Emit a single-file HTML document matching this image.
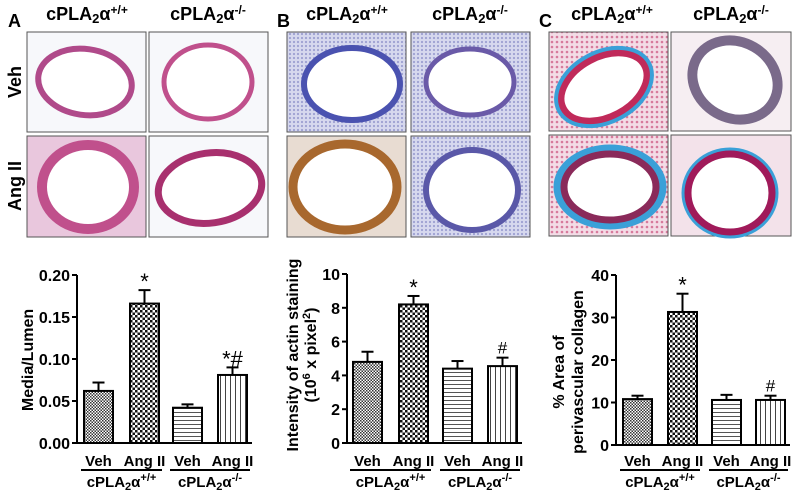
<!DOCTYPE html>
<html><head><meta charset="utf-8"><style>
body{margin:0;background:#fff;}
svg{display:block;font-family:"Liberation Sans",Arial,sans-serif;font-weight:bold;}
</style></head><body>
<svg id="fig" width="800" height="501" viewBox="0 0 800 501">
<defs>
<pattern id="pDense" width="3" height="3" patternUnits="userSpaceOnUse"><rect width="3" height="3" fill="#fff"/><rect width="1.5" height="1.5" fill="#333"/><rect x="1.5" y="1.5" width="1.5" height="1.5" fill="#333"/></pattern>
<pattern id="pCheck" width="5" height="5" patternUnits="userSpaceOnUse"><rect width="5" height="5" fill="#fff"/><rect width="2.5" height="2.5" fill="#111"/><rect x="2.5" y="2.5" width="2.5" height="2.5" fill="#111"/></pattern>
<pattern id="pHoriz" width="4" height="4" patternUnits="userSpaceOnUse"><rect width="4" height="4" fill="#fff"/><rect y="0" width="4" height="1" fill="#555"/></pattern>
<pattern id="pVert" width="5" height="4" patternUnits="userSpaceOnUse"><rect width="5" height="4" fill="#fff"/><rect x="0" width="1" height="4" fill="#444"/></pattern>
<pattern id="pBlue" width="4" height="4" patternUnits="userSpaceOnUse"><rect width="4" height="4" fill="#d6d8ee"/><circle cx="2" cy="2" r="1.1" fill="#9da0d2"/></pattern>
<pattern id="pPink" width="5" height="5" patternUnits="userSpaceOnUse"><rect width="5" height="5" fill="#f3dce6"/><circle cx="2" cy="2" r="1.3" fill="#d77a9c"/></pattern>
</defs>

<text x="8" y="27" font-size="18">A</text>
<text x="277" y="27" font-size="18">B</text>
<text x="539" y="27" font-size="18">C</text>
<g font-size="18" text-anchor="middle">
<text x="87" y="20">cPLA<tspan font-size="13" dy="3">2</tspan><tspan dy="-3">α</tspan><tspan font-size="12" dy="-6">+/+</tspan></text>
<text x="208" y="20">cPLA<tspan font-size="13" dy="3">2</tspan><tspan dy="-3">α</tspan><tspan font-size="12" dy="-6">-/-</tspan></text>
<text x="347" y="20">cPLA<tspan font-size="13" dy="3">2</tspan><tspan dy="-3">α</tspan><tspan font-size="12" dy="-6">+/+</tspan></text>
<text x="470" y="20">cPLA<tspan font-size="13" dy="3">2</tspan><tspan dy="-3">α</tspan><tspan font-size="12" dy="-6">-/-</tspan></text>
<text x="612" y="20">cPLA<tspan font-size="13" dy="3">2</tspan><tspan dy="-3">α</tspan><tspan font-size="12" dy="-6">+/+</tspan></text>
<text x="731" y="20">cPLA<tspan font-size="13" dy="3">2</tspan><tspan dy="-3">α</tspan><tspan font-size="12" dy="-6">-/-</tspan></text>
</g>
<text transform="translate(21,82) rotate(-90)" font-size="18" text-anchor="middle">Veh</text>
<text transform="translate(21,186) rotate(-90)" font-size="18" text-anchor="middle">Ang II</text>

<g><rect x="27" y="32" width="119" height="100" fill="#f7f8fb" stroke="#555"/><ellipse cx="85" cy="82" rx="47" ry="33" fill="#fff" stroke="#b04a8a" stroke-width="6" transform="rotate(8 85 82)"/></g>
<g><rect x="149" y="32" width="119" height="100" fill="#f7f8fb" stroke="#555"/><ellipse cx="208" cy="82" rx="44" ry="37" fill="#fff" stroke="#c0508c" stroke-width="5"/></g>
<g><rect x="27" y="136" width="119" height="101" fill="#e9c7dd" stroke="#555"/><ellipse cx="88" cy="187" rx="46" ry="42" fill="#fff" stroke="#c0508c" stroke-width="10"/></g>
<g><rect x="149" y="136" width="119" height="101" fill="#f7f8fb" stroke="#555"/><ellipse cx="210" cy="188" rx="52" ry="35" fill="#fff" stroke="#a8306e" stroke-width="7" transform="rotate(-8 210 188)"/></g>
<g><rect x="287" y="32" width="119" height="100" fill="url(#pBlue)" stroke="#555"/><ellipse cx="352" cy="84" rx="48" ry="36" fill="#fff" stroke="#4a52b0" stroke-width="6"/></g>
<g><rect x="411" y="32" width="119" height="100" fill="url(#pBlue)" stroke="#555"/><ellipse cx="470" cy="82" rx="44" ry="33" fill="#fff" stroke="#6a5aa8" stroke-width="5"/></g>
<g><rect x="287" y="136" width="119" height="101" fill="#e8dcd2" stroke="#555"/><ellipse cx="345" cy="187" rx="52" ry="43" fill="#fff" stroke="#a8682e" stroke-width="9"/></g>
<g><rect x="411" y="136" width="119" height="101" fill="url(#pBlue)" stroke="#555"/><ellipse cx="472" cy="190" rx="46" ry="40" fill="#fff" stroke="#5a58a8" stroke-width="6"/></g>
<g><rect x="549" y="32" width="119" height="99" fill="url(#pPink)" stroke="#555"/><ellipse cx="604" cy="87" rx="46" ry="30" fill="#fff" stroke="#c02a5a" stroke-width="7" transform="rotate(-28 604 87)"/><ellipse cx="604" cy="87" rx="51" ry="35" fill="none" stroke="#3aa0d8" stroke-width="4" transform="rotate(-28 604 87)"/></g>
<g><rect x="671" y="32" width="120" height="99" fill="#f6eef2" stroke="#555"/><ellipse cx="735" cy="80" rx="44" ry="38" fill="#fff" stroke="#7a6a8a" stroke-width="10" transform="rotate(30 735 80)"/></g>
<g><rect x="549" y="135" width="119" height="101" fill="url(#pPink)" stroke="#555"/><ellipse cx="610" cy="187" rx="52" ry="38" fill="none" stroke="#3aa0d8" stroke-width="9"/><ellipse cx="610" cy="187" rx="46" ry="33" fill="#fff" stroke="#8a2a5a" stroke-width="7"/></g>
<g><rect x="671" y="135" width="120" height="101" fill="#f3e2ea" stroke="#555"/><ellipse cx="730" cy="193" rx="46" ry="43" fill="none" stroke="#3aa0d8" stroke-width="5"/><ellipse cx="730" cy="193" rx="42" ry="39" fill="#fff" stroke="#a01a5a" stroke-width="7"/></g>

<g id="charts"></g>
</svg>
<script>
const catsA = ["Veh","Ang II","Veh","Ang II"];
const valsA = [0.062, 0.166, 0.042, 0.081];
const errA = [0.010, 0.016, 0.004, 0.009];
const ticksA = ["0.00","0.05","0.10","0.15","0.20"];
const tickValsA = [0, 0.05, 0.10, 0.15, 0.20];
const marksA = ["", "*", "", "*#"];
const valsB = [4.8, 8.2, 4.4, 4.55];
const errB = [0.6, 0.5, 0.45, 0.5];
const ticksB = ["0","2","4","6","8","10"];
const tickValsB = [0, 2, 4, 6, 8, 10];
const marksB = ["", "*", "", "#"];
const valsC = [10.8, 31.3, 10.6, 10.6];
const errC = [0.8, 4.3, 1.2, 1.0];
const ticksC = ["0","10","20","30","40"];
const tickValsC = [0, 10, 20, 30, 40];
const marksC = ["", "*", "", "#"];

const NS = "http://www.w3.org/2000/svg";
const root = document.getElementById("charts");
function mk(tag, attrs, parent, txt){
  const e = document.createElementNS(NS, tag);
  for (const k in attrs) e.setAttribute(k, attrs[k]);
  if (txt !== undefined) e.textContent = txt;
  (parent||root).appendChild(e);
  return e;
}
const fills = ["url(#pDense)","url(#pCheck)","url(#pHoriz)","url(#pVert)"];

function chart(id, cfg, vals, errs, ticks, tickVals, marks){
  const g = mk("g", {});
  
  
  const maxV = tickVals[tickVals.length-1];
  const y = v => cfg.y0 - (v / maxV) * (cfg.y0 - cfg.yTop);
  const ax = mk("line", {x1:cfg.ax, y1:cfg.yTop, x2:cfg.ax, y2:cfg.y0, stroke:"#000","stroke-width":2}, g);
  
  
  const xa = mk("line", {x1:cfg.ax, y1:cfg.y0, x2:cfg.xEnd, y2:cfg.y0, stroke:"#000","stroke-width":2}, g);
  
  
  tickVals.forEach((tv, i) => {
    mk("line", {x1:cfg.ax-5, y1:y(tv), x2:cfg.ax, y2:y(tv), stroke:"#000","stroke-width":2}, g);
    const t = mk("text", {x:cfg.ax-7, y:y(tv)+6, "font-size":16, "text-anchor":"end"}, g, ticks[i]);
    
    
  });
  vals.forEach((v, i) => {
    const bx = cfg.bars[i], bw = 29;
    const cx = bx + bw/2;
    const top = y(v + errs[i]);
    mk("line", {x1:cx, y1:y(v), x2:cx, y2:top, stroke:"#000","stroke-width":2}, g);
    mk("line", {x1:cx-6, y1:top, x2:cx+6, y2:top, stroke:"#000","stroke-width":2}, g);
    const r = mk("rect", {x:bx, y:y(v), width:bw, height:cfg.y0 - y(v), fill:fills[i], stroke:"#000","stroke-width":2}, g);
    
    
    if (marks[i]) {
      const isStar = marks[i].startsWith("*");
      const m = mk("text", {x:cx, y:top-(isStar?1:4), "font-size":isStar?22:17, "font-weight":"normal", "text-anchor":"middle"}, g, marks[i]);
      
      
    }
    const c = mk("text", {x:cx, y:466, "font-size":15, "text-anchor":"middle"}, g, catsA[i]);
    
    
  });
  for (let k = 0; k < 2; k++) {
    const x1 = cfg.bars[2*k] - 3, x2 = cfg.bars[2*k+1] + 32;
    mk("line", {x1:x1, y1:470, x2:x2, y2:470, stroke:"#000","stroke-width":2}, g);
    const t = mk("text", {x:(x1+x2)/2, y:487, "font-size":15, "text-anchor":"middle"}, g);
    
    
    mk("tspan", {}, t, "cPLA");
    mk("tspan", {"font-size":11, dy:3}, t, "2");
    mk("tspan", {dy:-3}, t, "α");
    mk("tspan", {"font-size":11, dy:-6}, t, k === 0 ? "+/+" : "-/-");
  }
  cfg.titles.forEach((tt) => {
    const t = mk("text", {transform:`translate(${tt[0]},${cfg.titleY}) rotate(-90)`, "font-size":16, "text-anchor":"middle"}, g);
    
    
    if (tt[2]) {
      mk("tspan", {}, t, "(10");
      mk("tspan", {"font-size":11, dy:-6}, t, "6");
      mk("tspan", {dy:6}, t, " x pixel");
      mk("tspan", {"font-size":11, dy:-6}, t, "2");
      mk("tspan", {dy:6}, t, ")");
    } else t.textContent = tt[1];
  });
}
chart("chart-media-lumen", {ax:77, yTop:275, y0:443, xEnd:252, bars:[84,130,173,218], titles:[[33,"Media/Lumen"]], titleY:360}, valsA, errA, ticksA, tickValsA, marksA);
chart("chart-actin-staining", {ax:347, yTop:274, y0:443, xEnd:522, bars:[353,399,443,488], titles:[[298,"Intensity of actin staining"],[316,"",true]], titleY:355}, valsB, errB, ticksB, tickValsB, marksB);
chart("chart-perivascular-collagen", {ax:616, yTop:275, y0:445, xEnd:790, bars:[623,668,712,756], titles:[[564,"% Area of"],[583,"perivascular collagen"]], titleY:372}, valsC, errC, ticksC, tickValsC, marksC);
</script>
</body></html>
